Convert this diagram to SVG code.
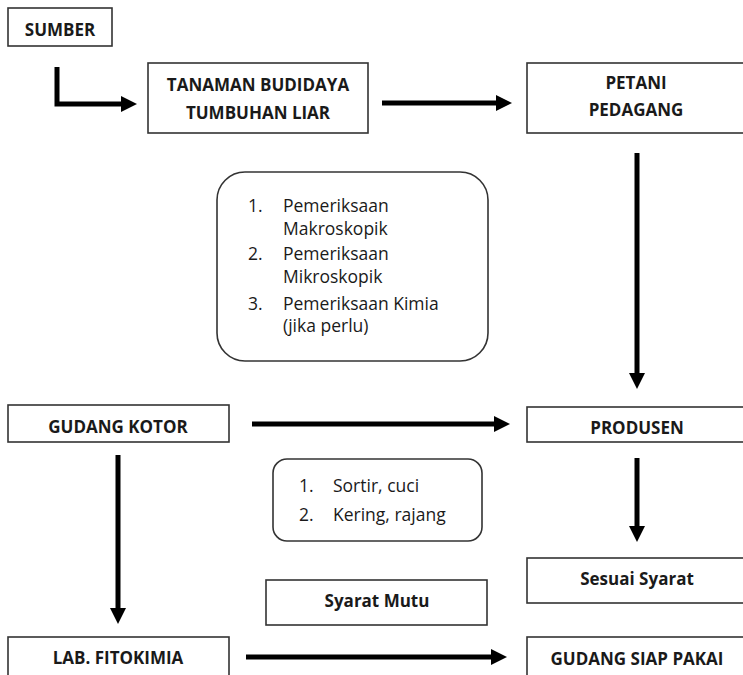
<svg xmlns="http://www.w3.org/2000/svg" width="743" height="675" viewBox="0 0 743 675">
<style>
.box{fill:#fff;stroke:#333;stroke-width:1.6}
.lbl{font-family:"Open Sans","Liberation Sans",sans-serif;font-weight:bold;font-size:17px;fill:#1a1a1a;text-anchor:middle}
.txt{font-family:"Open Sans","Liberation Sans",sans-serif;font-size:17.5px;fill:#1a1a1a}
.con{stroke:#000;stroke-width:5;fill:none}
</style>
<defs>
<marker id="ah" markerUnits="userSpaceOnUse" markerWidth="16" markerHeight="16" viewBox="0 0 16 16" refX="2" refY="8" orient="auto">
<path d="M0,0 L16,8 L0,16 z" fill="#000"/>
</marker>
</defs>
<rect width="743" height="675" fill="#fff"/>
<g id="sumber"><rect class="box" x="8" y="8" width="104" height="38"/><text class="lbl" x="60" y="36">SUMBER</text></g>
<g id="tanaman"><rect class="box" x="148" y="63" width="220" height="70"/><text class="lbl" x="258" y="91">TANAMAN BUDIDAYA</text><text class="lbl" x="258" y="119">TUMBUHAN LIAR</text></g>
<g id="petani"><rect class="box" x="527" y="63" width="230" height="70"/><text class="lbl" x="636" y="89">PETANI</text><text class="lbl" x="636" y="116">PEDAGANG</text></g>
<g id="pemeriksaan"><rect class="box" x="217" y="172" width="271" height="189" rx="28" ry="28"/>
<text class="txt" x="248" y="212">1.</text><text class="txt" x="283" y="212">Pemeriksaan</text>
<text class="txt" x="283" y="235">Makroskopik</text>
<text class="txt" x="248" y="260">2.</text><text class="txt" x="283" y="260">Pemeriksaan</text>
<text class="txt" x="283" y="283">Mikroskopik</text>
<text class="txt" x="248" y="310">3.</text><text class="txt" x="283" y="310">Pemeriksaan Kimia</text>
<text class="txt" x="283" y="332">(jika perlu)</text></g>
<g id="gudang-kotor"><rect class="box" x="8" y="405" width="221" height="37"/><text class="lbl" x="118" y="433">GUDANG KOTOR</text></g>
<g id="produsen"><rect class="box" x="527" y="407" width="230" height="35"/><text class="lbl" x="637" y="434">PRODUSEN</text></g>
<g id="sortir"><rect class="box" x="273" y="459" width="209" height="82" rx="14" ry="14"/>
<text class="txt" x="299" y="492">1.</text><text class="txt" x="333" y="492">Sortir, cuci</text>
<text class="txt" x="299" y="521">2.</text><text class="txt" x="333" y="521">Kering, rajang</text></g>
<g id="sesuai-syarat"><rect class="box" x="527" y="558" width="230" height="45"/><text class="lbl" x="637" y="585">Sesuai Syarat</text></g>
<g id="syarat-mutu"><rect class="box" x="266" y="580" width="221" height="45"/><text class="lbl" x="377" y="607">Syarat Mutu</text></g>
<g id="lab"><rect class="box" x="8" y="637" width="221" height="50"/><text class="lbl" x="118" y="664">LAB. FITOKIMIA</text></g>
<g id="gudang-siap"><rect class="box" x="527" y="637" width="230" height="50"/><text class="lbl" x="637" y="665">GUDANG SIAP PAKAI</text></g>
<g id="connectors">
<path class="con" d="M57,67 V104 H123" marker-end="url(#ah)"/>
<path class="con" d="M382,103 H498" marker-end="url(#ah)"/>
<path class="con" d="M637,153 V375" marker-end="url(#ah)"/>
<path class="con" d="M252,424 H496" marker-end="url(#ah)"/>
<path class="con" d="M118,455 V610" marker-end="url(#ah)"/>
<path class="con" d="M637,458 V528" marker-end="url(#ah)"/>
<path class="con" d="M246,657 H493" marker-end="url(#ah)"/>
</g>
</svg>
